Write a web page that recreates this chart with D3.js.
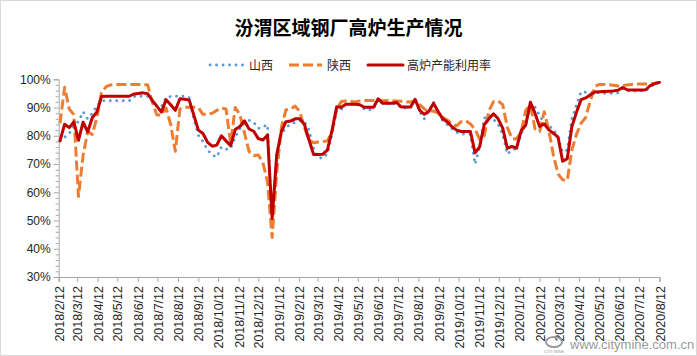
<!DOCTYPE html>
<html>
<head>
<meta charset="utf-8">
<script src="https://cdn.jsdelivr.net/npm/d3@7"></script>
<style>
  html, body { margin: 0; padding: 0; background: #fff; }
  svg { display: block; }
</style>
</head>
<body>
<svg id="chart" width="697" height="356"></svg>
<script>
// ---------------- DATA ----------------
const title = "汾渭区域钢厂高炉生产情况";
const seriesNames = ["山西", "陕西", "高炉产能利用率"];
const firstWeek = "2018-02-14"; // weekly observations from this date
const shanxi = [
  78.2,79.5,80.8,83.5,85.0,88.5,86.0,88.0,90.5,92.5,
  92.4,92.4,92.4,92.4,92.4,92.4,93.9,94.0,94.0,94.0,
  92.5,90.5,90.3,93.5,93.9,94.0,94.2,94.0,93.5,86.0,
  80.2,78.0,75.0,73.2,72.5,76.0,75.2,75.5,79.5,82.5,
  84.5,85.5,84.8,82.6,83.2,83.9,48.0,74.0,80.5,83.0,
  84.0,84.8,85.3,85.0,82.0,75.5,72.3,72.0,73.8,80.5,
  89.2,89.4,91.2,91.2,91.2,91.0,89.4,89.2,89.6,93.0,
  91.3,91.3,91.3,91.5,89.8,89.8,89.8,93.3,88.5,86.0,
  89.0,91.9,88.6,85.3,83.9,82.5,81.3,80.6,80.6,80.5,
  70.0,76.0,86.2,87.4,85.8,84.2,80.5,73.5,75.0,75.4,
  80.5,84.5,90.5,90.2,87.2,84.5,83.5,82.3,79.5,74.2,
  75.0,86.0,91.0,95.6,95.4,95.4,95.3,95.2,95.0,95.0,
  95.0,95.2,96.7,95.9,95.9,95.9,95.9,95.9,97.5,98.3,
  98.9
];
const shaanxi = [
  84.4,97.2,89.5,87.5,58.5,73.0,81.5,80.5,86.5,95.3,
  97.4,98.0,98.2,98.2,98.2,98.2,98.2,98.2,98.2,98.0,
  92.0,87.4,87.4,89.8,84.0,74.5,89.5,90.1,90.1,90.1,
  90.0,87.6,87.6,88.0,89.0,89.8,89.5,77.5,90.0,87.5,
  81.0,74.4,73.0,73.2,70.5,63.5,44.0,67.0,83.0,89.2,
  89.5,90.5,88.5,83.0,78.5,77.5,77.8,78.0,78.2,81.5,
  89.5,92.1,92.3,92.2,92.0,92.3,92.5,92.5,92.5,92.5,
  92.4,92.5,92.4,92.3,92.2,92.0,92.0,92.3,91.0,89.5,
  88.6,88.8,88.0,86.6,85.5,84.2,83.5,85.0,85.3,84.2,
  82.3,78.7,80.0,88.8,92.1,92.4,91.0,83.0,79.0,78.9,
  81.3,89.0,90.8,82.5,81.5,88.5,82.0,73.0,66.5,64.4,
  64.2,75.0,80.5,84.5,86.5,92.5,97.5,98.2,98.2,98.1,
  97.9,97.6,97.8,98.0,98.2,98.3,98.3,98.3,98.4,98.6,
  98.9
];
const utilization = [
  78.2,84.1,82.9,84.9,78.4,84.8,81.4,86.4,88.4,93.9,
  94.0,94.0,94.0,94.0,94.0,94.0,94.8,95.0,95.2,94.9,
  92.5,90.5,88.4,92.8,91.0,89.0,93.1,92.9,92.7,87.4,
  82.0,80.8,77.7,76.3,76.7,80.0,78.2,76.5,82.2,83.3,
  85.3,82.4,81.6,79.0,78.5,80.3,50.7,73.3,81.5,85.0,
  85.2,86.0,86.0,84.0,78.5,73.4,73.4,73.5,75.0,82.0,
  90.3,90.1,91.2,91.2,91.2,91.0,90.1,90.1,90.1,93.1,
  91.5,91.5,91.5,91.8,90.2,90.2,90.2,92.9,89.0,87.6,
  88.7,91.5,88.6,86.0,84.9,83.2,82.0,81.5,81.5,81.5,
  74.0,76.1,84.0,86.0,87.8,86.0,82.7,75.6,76.2,75.6,
  81.8,83.8,91.9,88.0,83.3,84.2,82.1,80.9,79.5,71.0,
  71.9,83.3,88.3,92.8,93.4,94.5,95.5,95.6,95.7,95.8,
  95.9,96.1,97.1,96.3,96.2,96.2,96.2,96.3,97.8,98.5,
  98.9
];
const xTickLabels = [
  "2018/2/12","2018/3/12","2018/4/12","2018/5/12","2018/6/12","2018/7/12",
  "2018/8/12","2018/9/12","2018/10/12","2018/11/12","2018/12/12",
  "2019/1/12","2019/2/12","2019/3/12","2019/4/12","2019/5/12","2019/6/12",
  "2019/7/12","2019/8/12","2019/9/12","2019/10/12","2019/11/12","2019/12/12",
  "2020/1/12","2020/2/12","2020/3/12","2020/4/12","2020/5/12","2020/6/12",
  "2020/7/12","2020/8/12"
];
const yTicks = [30, 40, 50, 60, 70, 80, 90, 100];

// ---------------- CHART ----------------
(function () {
const svg = d3.select("#chart");
const W = 697, H = 356;
const mLeft = 58.7, mRight = 659.5, mTop = 79.3, mBottom = 277;
const parse = d3.timeParse("%Y/%m/%d");
const iso = d3.timeParse("%Y-%m-%d");
const tickDates = xTickLabels.map(parse);
const start0 = iso(firstWeek);
const dates = utilization.map((_, i) => d3.timeDay.offset(start0, 7 * i));

const x = d3.scaleTime().domain([tickDates[0], tickDates[tickDates.length - 1]]).range([mLeft, mRight]);
const y = d3.scaleLinear().domain([30, 100]).range([mBottom, mTop]);

// outer border
svg.append("rect").attr("x", 0.5).attr("y", 0.5).attr("width", W - 1).attr("height", H - 1)
  .attr("fill", "#fff").attr("stroke", "#d9d9d9");

// title
svg.append("text").attr("x", 348.5).attr("y", 35)
  .attr("text-anchor", "middle")
  .style("font-family", "'Noto Sans CJK SC', sans-serif")
  .style("font-weight", "bold").style("font-size", "19px").attr("fill", "#000")
  .text(title);

// y axis
const yAxis = d3.axisLeft(y).tickValues(yTicks).tickSize(5).tickFormat(d => d + "%");
const gy = svg.append("g").attr("transform", `translate(${mLeft},0)`).call(yAxis);
gy.select(".domain").attr("stroke", "#a6a6a6");
gy.selectAll(".tick line").attr("stroke", "#a6a6a6");
gy.selectAll(".tick text").attr("x", -8)
  .style("font-family", "Arial, 'Liberation Sans', sans-serif").style("font-size", "12px").attr("fill", "#262626");
// minor ticks
const minor = d3.range(30, 100.01, 2).filter(v => v % 10 !== 0);
const gMinor = svg.append("g").attr("transform", `translate(${mLeft},0)`)
  .call(d3.axisLeft(y).tickValues(minor).tickSize(3).tickFormat(""));
gMinor.select(".domain").remove();
gMinor.selectAll(".tick line").attr("stroke", "#a6a6a6");

// x axis
const xAxis = d3.axisBottom(x).tickValues(tickDates).tickSize(5).tickFormat((d, i) => xTickLabels[i]);
const gx = svg.append("g").attr("transform", `translate(0,${mBottom})`).call(xAxis);
gx.select(".domain").attr("stroke", "#a6a6a6");
gx.selectAll(".tick line").attr("stroke", "#a6a6a6");
gx.selectAll(".tick text")
  .attr("transform", "rotate(-90)")
  .attr("text-anchor", "end")
  .attr("x", -9).attr("y", 0).attr("dy", "0.36em")
  .style("font-family", "Arial, 'Liberation Sans', sans-serif").style("font-size", "12.5px").attr("fill", "#262626");

// lines
const line = d3.line().x((d, i) => x(dates[i])).y(d => y(d));
const styles = [
  { data: shanxi, color: "#5b9bd5", width: 2.8, dash: "0.1,6.4", cap: "round" },
  { data: shaanxi, color: "#ed7d31", width: 3, dash: "10,4", cap: "butt" },
  { data: utilization, color: "#c00000", width: 3, dash: null, cap: "round" }
];
styles.forEach(s => {
  svg.append("path").datum(s.data).attr("d", line)
    .attr("fill", "none").attr("stroke", s.color).attr("stroke-width", s.width)
    .attr("stroke-dasharray", s.dash).attr("stroke-linecap", s.cap)
    .attr("stroke-linejoin", "round");
});

// legend
const legendItems = [
  { x0: 210, x1: 243, tx: 249 },
  { x0: 289, x1: 322, tx: 327 },
  { x0: 368, x1: 403, tx: 407 }
];
legendItems.forEach((p, i) => {
  const s = styles[i];
  svg.append("line").attr("x1", p.x0).attr("x2", p.x1).attr("y1", 65).attr("y2", 65)
    .attr("stroke", s.color).attr("stroke-width", s.width)
    .attr("stroke-dasharray", s.dash).attr("stroke-linecap", s.cap);
  svg.append("text").attr("x", p.tx).attr("y", 69.5)
    .style("font-family", "'Noto Sans CJK SC', sans-serif").style("font-size", "12px")
    .attr("fill", "#262626").text(seriesNames[i]);
});

// watermark
const wm = svg.append("g").attr("fill", "#9a9a9a");
wm.append("ellipse").attr("cx", 554).attr("cy", 342).attr("rx", 8).attr("ry", 5)
  .attr("fill", "none").attr("stroke", "#9a9a9a").attr("stroke-width", 2);
wm.append("text").attr("x", 554).attr("y", 353).attr("text-anchor", "middle")
  .style("font-family", "Arial, sans-serif").style("font-size", "4px").text("CITY MINE");
wm.append("text").attr("x", 570).attr("y", 349)
  .style("font-family", "Arial, 'Liberation Sans', sans-serif").style("font-size", "13px")
  .text("www.citymine.com.cn");
})();
</script>
</body>
</html>
